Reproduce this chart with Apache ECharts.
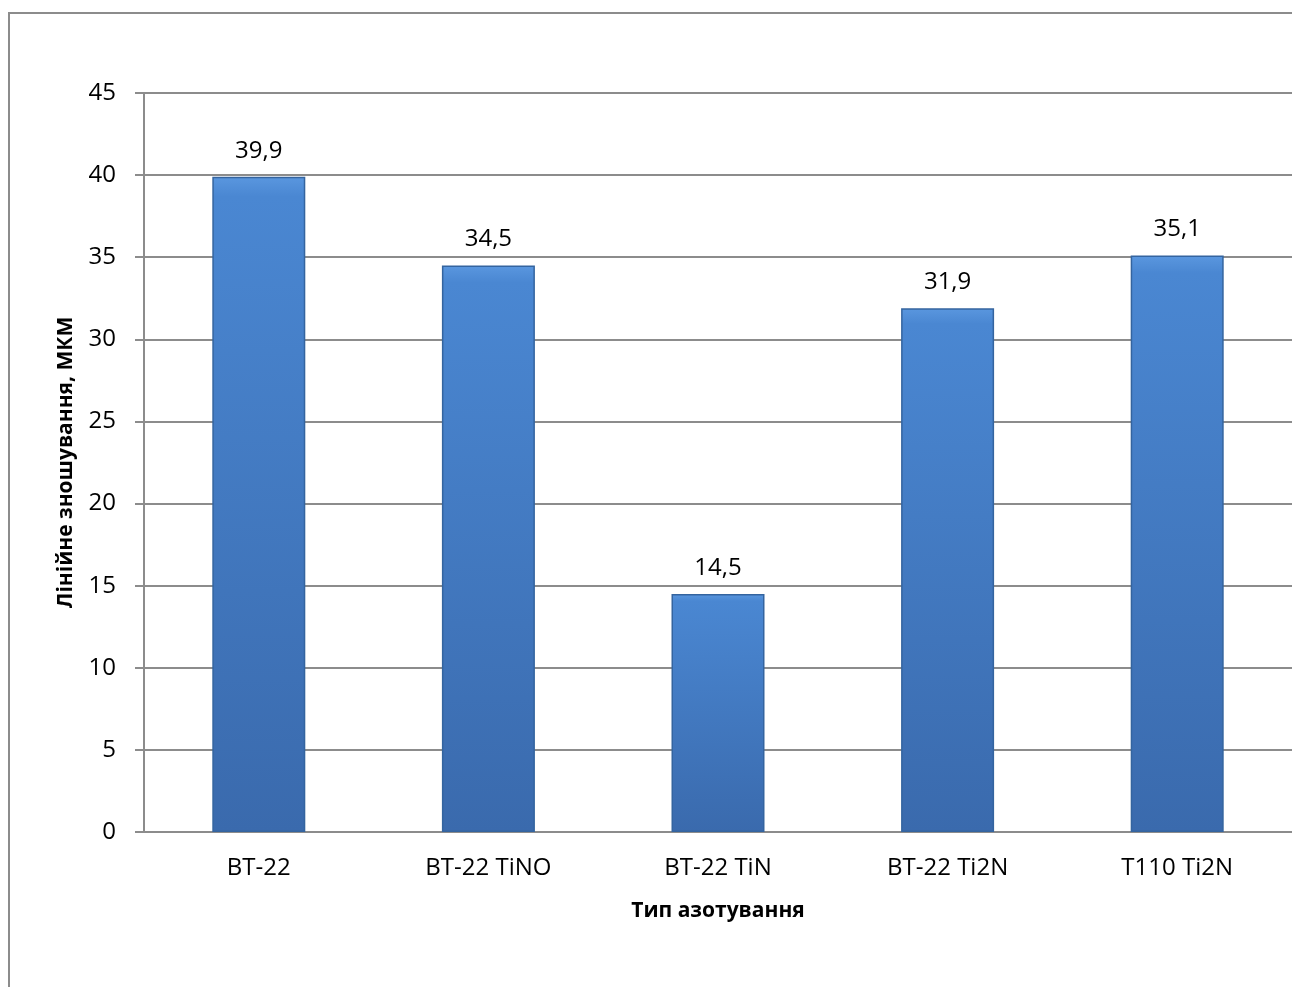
<!DOCTYPE html>
<html>
<head>
<meta charset="utf-8">
<script src="https://cdn.jsdelivr.net/npm/echarts@6/dist/echarts.min.js"></script>
<style>
html,body{margin:0;padding:0;background:#fff;}
#c{width:1292px;height:987px;}
</style>
</head>
<body>
<div id="c"></div>
<script>
const categories = ['BT-22', 'BT-22 TiNO', 'BT-22 TiN', 'BT-22 Ti2N', 'T110 Ti2N'];
const values = [39.9, 34.5, 14.5, 31.9, 35.1];
const yTicks = { min: 0, max: 45, interval: 5 };
const yTitle = 'Лінійне зношування, МКМ';
const xTitle = 'Тип азотування';

const chart = echarts.init(document.getElementById('c'), null, { renderer: 'canvas' });
const fontFam = '"Open Sans", "Liberation Sans", sans-serif';
chart.setOption({
  animation: false,
  backgroundColor: '#fff',
  graphic: [{
    type: 'rect',
    shape: { x: 9, y: 13, width: 1500, height: 1200 },
    style: { fill: 'none', stroke: '#8c8c8c', lineWidth: 2 },
    silent: true
  }],
  grid: { left: 144, top: 93, bottom: 987 - 832, right: 1292 - 1304, containLabel: false },
  xAxis: {
    type: 'category',
    data: categories,
    name: xTitle,
    nameLocation: 'middle',
    nameGap: 69,
    nameTextStyle: { fontFamily: fontFam, fontSize: 21, fontWeight: 'bold', color: '#000' },
    axisLine: { show: true, lineStyle: { color: '#8c8c8c', width: 2 } },
    axisTick: { show: false },
    axisLabel: { fontFamily: fontFam, fontSize: 24, color: '#000', margin: 24 }
  },
  yAxis: {
    type: 'value',
    min: yTicks.min, max: yTicks.max, interval: yTicks.interval,
    name: yTitle,
    nameLocation: 'middle',
    nameGap: 67,
    nameRotate: 90,
    nameTextStyle: { fontFamily: fontFam, fontSize: 21, fontWeight: 'bold', color: '#000' },
    axisLine: { show: true, lineStyle: { color: '#8c8c8c', width: 2 } },
    axisTick: { show: true, length: 9, lineStyle: { color: '#8c8c8c', width: 2 } },
    splitLine: { show: true, lineStyle: { color: '#8c8c8c', width: 2 } },
    axisLabel: { fontFamily: fontFam, fontSize: 24, color: '#000', margin: 28 }
  },
  series: [{
    type: 'bar',
    data: values,
    barWidth: 93,
    itemStyle: {
      color: {
        type: 'linear', x: 0, y: 0, x2: 0, y2: 1,
        colorStops: [
          { offset: 0, color: '#5a97df' },
          { offset: 0.03, color: '#4a87d2' },
          { offset: 1, color: '#3a6aad' }
        ]
      },
      borderColor: '#34649f',
      borderWidth: 1.5
    },
    label: {
      show: true,
      position: 'top',
      distance: 14,
      fontFamily: fontFam,
      fontSize: 24,
      color: '#000',
      formatter: p => String(p.value).replace('.', ',')
    }
  }]
});
</script>
</body>
</html>
